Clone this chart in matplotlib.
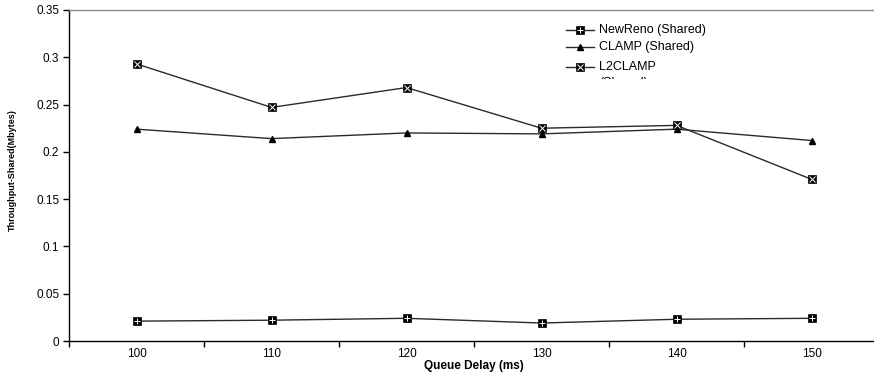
import matplotlib
matplotlib.use("Agg")
import matplotlib.pyplot as plt
from matplotlib.transforms import Bbox

plt.rcParams['font.family'] = ['Liberation Sans', 'DejaVu Sans']

delays = ["100", "110", "120", "130", "140", "150"]
newreno = [0.021, 0.022, 0.024, 0.019, 0.023, 0.024]
clamp = [0.224, 0.214, 0.220, 0.219, 0.224, 0.212]
l2clamp = [0.293, 0.247, 0.268, 0.225, 0.228, 0.171]

W, H = 874, 375
fig = plt.figure(figsize=(W / 100, H / 100), dpi=100)
ax = fig.add_axes([69 / W, (H - 341) / H, (879 - 69) / W, 331 / H])

x = list(range(len(delays)))
lc = '#2a2a2a'
sq = dict(marker='s', ms=5.5, mfc='black', mec='black', mew=0.5)
plus = dict(marker='+', ms=5, mec='white', mew=0.7)
cross = dict(marker='x', ms=3.8, mec='white', mew=0.7)

# series
ax.plot(x, clamp, color=lc, lw=1, marker='^', ms=5, mfc='black', mec='black', zorder=3)
ax.plot(x, newreno, color=lc, lw=1, zorder=3, **sq)
ax.plot(x, newreno, ls='none', zorder=4, **plus)
ax.plot(x, l2clamp, color=lc, lw=1, zorder=3, **sq)
ax.plot(x, l2clamp, ls='none', zorder=4, **cross)

ax.set_xlim(-0.5, 5.5)
ax.set_ylim(0, 0.35)
ax.set_yticks([0, 0.05, 0.1, 0.15, 0.2, 0.25, 0.3, 0.35])
ax.set_yticklabels(['0', '0.05', '0.1', '0.15', '0.2', '0.25', '0.3', '0.35'])
ax.set_xticks(x)
ax.set_xticklabels(delays)
ax.set_xticks([i - 0.5 for i in range(len(delays))], minor=True)
ax.tick_params(axis='x', which='major', length=0, labelsize=8.5, pad=5)
ax.tick_params(axis='x', which='minor', length=4, width=1, direction='out')
ax.tick_params(axis='y', length=4, width=1, labelsize=8.5, direction='out', pad=3)

ax.spines['right'].set_visible(False)
ax.spines['top'].set_color('#8c8c8c')
ax.spines['top'].set_linewidth(1)
ax.spines['left'].set_linewidth(1)
ax.spines['bottom'].set_linewidth(1)

ax.set_xlabel('Queue Delay (ms)', fontsize=8.5, fontweight='bold', labelpad=0)
fig.text(12 / W, 1 - 170 / H, 'Throughput-Shared(Mbytes)', rotation=90,
         fontsize=6.5, fontweight='bold', ha='center', va='center')

# legend
def to_fig(px, py):
    return px / W, 1 - py / H

rows = [30, 47, 67]
names = ['NewReno (Shared)', 'CLAMP (Shared)', 'L2CLAMP']
overlays = [plus, None, cross]
for py, name, over in zip(rows, names, overlays):
    x0, y0 = to_fig(566, py)
    x1, _ = to_fig(594, py)
    xm, _ = to_fig(580, py)
    fig.add_artist(plt.Line2D([x0, x1], [y0, y0], color=lc, lw=1, transform=fig.transFigure))
    if over is None:
        fig.add_artist(plt.Line2D([xm], [y0], marker='^', ms=5, mfc='black', mec='black',
                                  transform=fig.transFigure))
    else:
        fig.add_artist(plt.Line2D([xm], [y0], transform=fig.transFigure, **sq))
        fig.add_artist(plt.Line2D([xm], [y0], ls='none', transform=fig.transFigure, **over))
    fig.text(*to_fig(599, py), name, fontsize=9, va='center', ha='left')

t = fig.text(*to_fig(599, 83), '(Shared)', fontsize=9, va='center', ha='left')
t.set_clip_box(Bbox.from_extents(0, H - 79, W, H))
t.set_clip_on(True)

fig.savefig('out.png', dpi=100)
